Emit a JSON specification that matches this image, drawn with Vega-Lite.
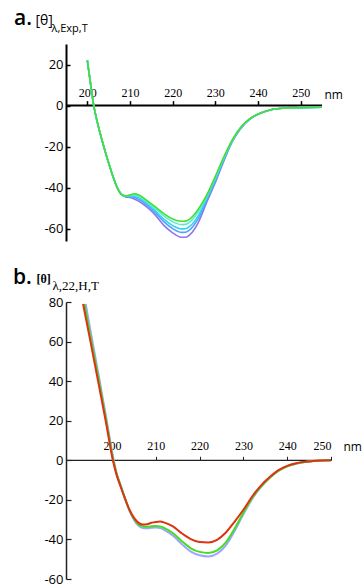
{
  "$schema": "https://vega.github.io/schema/vega-lite/v6.json",
  "padding": {"left": 13, "top": 8, "right": 0, "bottom": 0},
  "config": {"view": {"stroke": null}, "axis": {"grid": false}},
  "spacing": 26,
  "resolve": {"scale": {"color": "independent"}},
  "datasets": {
    "a": [
      {"nm":200,"v":22,"s":"a1"},{"nm":200.5,"v":14.5,"s":"a1"},{"nm":201,"v":7,"s":"a1"},{"nm":201.5,"v":0,"s":"a1"},{"nm":202,"v":-5,"s":"a1"},{"nm":203,"v":-13.5,"s":"a1"},{"nm":204,"v":-21,"s":"a1"},{"nm":205,"v":-28,"s":"a1"},{"nm":206,"v":-34.5,"s":"a1"},{"nm":207,"v":-40,"s":"a1"},{"nm":208,"v":-43.3,"s":"a1"},
      {"nm":209,"v":-44.5,"s":"a1"},{"nm":210,"v":-44.8,"s":"a1"},{"nm":211,"v":-45.5,"s":"a1"},{"nm":212,"v":-46.5,"s":"a1"},{"nm":214,"v":-49.5,"s":"a1"},{"nm":216,"v":-53.5,"s":"a1"},{"nm":218,"v":-58.5,"s":"a1"},{"nm":220,"v":-62,"s":"a1"},{"nm":222,"v":-64.2,"s":"a1"},{"nm":223,"v":-64.2,"s":"a1"},{"nm":224,"v":-63,"s":"a1"},{"nm":226,"v":-57,"s":"a1"},{"nm":228,"v":-47,"s":"a1"},{"nm":230,"v":-37.5,"s":"a1"},{"nm":232,"v":-27,"s":"a1"},{"nm":234,"v":-17.5,"s":"a1"},{"nm":236,"v":-11,"s":"a1"},{"nm":238,"v":-6.8,"s":"a1"},
      {"nm":240,"v":-4.2,"s":"a1"},{"nm":242,"v":-2.6,"s":"a1"},{"nm":245,"v":-1.4,"s":"a1"},{"nm":250,"v":-1.0,"s":"a1"},{"nm":255,"v":-0.8,"s":"a1"},

      {"nm":200,"v":22,"s":"a2"},{"nm":200.5,"v":14.5,"s":"a2"},{"nm":201,"v":7,"s":"a2"},{"nm":201.5,"v":0,"s":"a2"},{"nm":202,"v":-5,"s":"a2"},{"nm":203,"v":-13.5,"s":"a2"},{"nm":204,"v":-21,"s":"a2"},{"nm":205,"v":-28,"s":"a2"},{"nm":206,"v":-34.5,"s":"a2"},{"nm":207,"v":-40,"s":"a2"},{"nm":208,"v":-43.3,"s":"a2"},
      {"nm":209,"v":-44.35,"s":"a2"},{"nm":210,"v":-44.4,"s":"a2"},{"nm":211,"v":-44.7,"s":"a2"},{"nm":212,"v":-45.6,"s":"a2"},{"nm":214,"v":-48.5,"s":"a2"},{"nm":216,"v":-52.3,"s":"a2"},{"nm":218,"v":-56.7,"s":"a2"},{"nm":220,"v":-60,"s":"a2"},{"nm":222,"v":-61.8,"s":"a2"},{"nm":223,"v":-61.7,"s":"a2"},{"nm":224,"v":-60.6,"s":"a2"},{"nm":226,"v":-55,"s":"a2"},{"nm":228,"v":-45.9,"s":"a2"},{"nm":230,"v":-36.6,"s":"a2"},{"nm":232,"v":-26.4,"s":"a2"},{"nm":234,"v":-17.2,"s":"a2"},{"nm":236,"v":-10.9,"s":"a2"},{"nm":238,"v":-6.7,"s":"a2"},
      {"nm":240,"v":-4.2,"s":"a2"},{"nm":242,"v":-2.6,"s":"a2"},{"nm":245,"v":-1.4,"s":"a2"},{"nm":250,"v":-1.0,"s":"a2"},{"nm":255,"v":-0.8,"s":"a2"},

      {"nm":200,"v":22,"s":"a3"},{"nm":200.5,"v":14.5,"s":"a3"},{"nm":201,"v":7,"s":"a3"},{"nm":201.5,"v":0,"s":"a3"},{"nm":202,"v":-5,"s":"a3"},{"nm":203,"v":-13.5,"s":"a3"},{"nm":204,"v":-21,"s":"a3"},{"nm":205,"v":-28,"s":"a3"},{"nm":206,"v":-34.5,"s":"a3"},{"nm":207,"v":-40,"s":"a3"},{"nm":208,"v":-43.3,"s":"a3"},
      {"nm":209,"v":-44.2,"s":"a3"},{"nm":210,"v":-44.1,"s":"a3"},{"nm":211,"v":-44.2,"s":"a3"},{"nm":212,"v":-44.9,"s":"a3"},{"nm":214,"v":-47.8,"s":"a3"},{"nm":216,"v":-51.4,"s":"a3"},{"nm":218,"v":-55.5,"s":"a3"},{"nm":220,"v":-58.5,"s":"a3"},{"nm":222,"v":-60.1,"s":"a3"},{"nm":223,"v":-60,"s":"a3"},{"nm":224,"v":-58.9,"s":"a3"},{"nm":226,"v":-53.6,"s":"a3"},{"nm":228,"v":-45.1,"s":"a3"},{"nm":230,"v":-35.9,"s":"a3"},{"nm":232,"v":-25.9,"s":"a3"},{"nm":234,"v":-17,"s":"a3"},{"nm":236,"v":-10.7,"s":"a3"},{"nm":238,"v":-6.6,"s":"a3"},
      {"nm":240,"v":-4.2,"s":"a3"},{"nm":242,"v":-2.6,"s":"a3"},{"nm":245,"v":-1.4,"s":"a3"},{"nm":250,"v":-1.0,"s":"a3"},{"nm":255,"v":-0.8,"s":"a3"},

      {"nm":200,"v":22,"s":"a4"},{"nm":200.5,"v":14.5,"s":"a4"},{"nm":201,"v":7,"s":"a4"},{"nm":201.5,"v":0,"s":"a4"},{"nm":202,"v":-5,"s":"a4"},{"nm":203,"v":-13.5,"s":"a4"},{"nm":204,"v":-21,"s":"a4"},{"nm":205,"v":-28,"s":"a4"},{"nm":206,"v":-34.5,"s":"a4"},{"nm":207,"v":-40,"s":"a4"},{"nm":208,"v":-43.3,"s":"a4"},
      {"nm":209,"v":-44.1,"s":"a4"},{"nm":210,"v":-43.8,"s":"a4"},{"nm":211,"v":-43.5,"s":"a4"},{"nm":212,"v":-44.1,"s":"a4"},{"nm":214,"v":-46.9,"s":"a4"},{"nm":216,"v":-50.3,"s":"a4"},{"nm":218,"v":-53.9,"s":"a4"},{"nm":220,"v":-56.6,"s":"a4"},{"nm":222,"v":-58,"s":"a4"},{"nm":223,"v":-57.9,"s":"a4"},{"nm":224,"v":-56.8,"s":"a4"},{"nm":226,"v":-51.8,"s":"a4"},{"nm":228,"v":-44.2,"s":"a4"},{"nm":230,"v":-35.1,"s":"a4"},{"nm":232,"v":-25.4,"s":"a4"},{"nm":234,"v":-16.8,"s":"a4"},{"nm":236,"v":-10.6,"s":"a4"},{"nm":238,"v":-6.6,"s":"a4"},
      {"nm":240,"v":-4.2,"s":"a4"},{"nm":242,"v":-2.6,"s":"a4"},{"nm":245,"v":-1.4,"s":"a4"},{"nm":250,"v":-1.0,"s":"a4"},{"nm":255,"v":-0.8,"s":"a4"},

      {"nm":200,"v":22,"s":"a5"},{"nm":200.5,"v":14.5,"s":"a5"},{"nm":201,"v":7,"s":"a5"},{"nm":201.5,"v":0,"s":"a5"},{"nm":202,"v":-5,"s":"a5"},{"nm":203,"v":-13.5,"s":"a5"},{"nm":204,"v":-21,"s":"a5"},{"nm":205,"v":-28,"s":"a5"},{"nm":206,"v":-34.5,"s":"a5"},{"nm":207,"v":-40,"s":"a5"},{"nm":208,"v":-43.3,"s":"a5"},
      {"nm":209,"v":-44,"s":"a5"},{"nm":210,"v":-43.5,"s":"a5"},{"nm":211,"v":-43,"s":"a5"},{"nm":212,"v":-43.5,"s":"a5"},{"nm":214,"v":-46.3,"s":"a5"},{"nm":216,"v":-49.5,"s":"a5"},{"nm":218,"v":-52.8,"s":"a5"},{"nm":220,"v":-55.3,"s":"a5"},{"nm":222,"v":-56.4,"s":"a5"},{"nm":223,"v":-56.3,"s":"a5"},{"nm":224,"v":-55.3,"s":"a5"},{"nm":226,"v":-50.5,"s":"a5"},{"nm":228,"v":-43.5,"s":"a5"},{"nm":230,"v":-34.5,"s":"a5"},{"nm":232,"v":-25,"s":"a5"},{"nm":234,"v":-16.6,"s":"a5"},{"nm":236,"v":-10.5,"s":"a5"},{"nm":238,"v":-6.5,"s":"a5"},
      {"nm":240,"v":-4.2,"s":"a5"},{"nm":242,"v":-2.6,"s":"a5"},{"nm":245,"v":-1.4,"s":"a5"},{"nm":250,"v":-1.0,"s":"a5"},{"nm":255,"v":-0.8,"s":"a5"}
    ],
    "b": [
      {"nm":194,"v":79,"s":"b1"},{"nm":195,"v":66.5,"s":"b1"},{"nm":197,"v":42.5,"s":"b1"},{"nm":198.6,"v":22.5,"s":"b1"},{"nm":200.4,"v":0,"s":"b1"},{"nm":201,"v":-6,"s":"b1"},{"nm":202,"v":-12.8,"s":"b1"},{"nm":203,"v":-19.5,"s":"b1"},{"nm":204,"v":-25.5,"s":"b1"},{"nm":205,"v":-30,"s":"b1"},{"nm":206,"v":-33,"s":"b1"},{"nm":207,"v":-34.2,"s":"b1"},{"nm":208,"v":-34.4,"s":"b1"},{"nm":209,"v":-34.1,"s":"b1"},{"nm":210,"v":-34,"s":"b1"},{"nm":211,"v":-34.3,"s":"b1"},{"nm":212,"v":-35.3,"s":"b1"},{"nm":214,"v":-38.3,"s":"b1"},{"nm":216,"v":-42.5,"s":"b1"},{"nm":218,"v":-46.2,"s":"b1"},{"nm":220,"v":-48,"s":"b1"},{"nm":222,"v":-48.6,"s":"b1"},{"nm":224,"v":-47.2,"s":"b1"},{"nm":226,"v":-43,"s":"b1"},{"nm":228,"v":-35.8,"s":"b1"},{"nm":230,"v":-27.3,"s":"b1"},{"nm":232,"v":-19.5,"s":"b1"},{"nm":234,"v":-13.6,"s":"b1"},{"nm":236,"v":-9,"s":"b1"},{"nm":238,"v":-5.4,"s":"b1"},{"nm":240,"v":-3.1,"s":"b1"},{"nm":242,"v":-1.8,"s":"b1"},{"nm":244,"v":-0.9,"s":"b1"},{"nm":246,"v":-0.4,"s":"b1"},{"nm":248,"v":-0.1,"s":"b1"},{"nm":250,"v":0,"s":"b1"},

      {"nm":193.7,"v":79,"s":"b2"},{"nm":195,"v":63.5,"s":"b2"},{"nm":197,"v":40.5,"s":"b2"},{"nm":198.6,"v":21,"s":"b2"},{"nm":200.3,"v":0,"s":"b2"},{"nm":201,"v":-6.5,"s":"b2"},{"nm":202,"v":-13,"s":"b2"},{"nm":203,"v":-19.5,"s":"b2"},{"nm":204,"v":-25.3,"s":"b2"},{"nm":205,"v":-29.5,"s":"b2"},{"nm":206,"v":-32.3,"s":"b2"},{"nm":207,"v":-33.3,"s":"b2"},{"nm":208,"v":-33.6,"s":"b2"},{"nm":209,"v":-33.3,"s":"b2"},{"nm":210,"v":-33.2,"s":"b2"},{"nm":211,"v":-33.4,"s":"b2"},{"nm":212,"v":-34.3,"s":"b2"},{"nm":214,"v":-37,"s":"b2"},{"nm":216,"v":-41,"s":"b2"},{"nm":218,"v":-44.5,"s":"b2"},{"nm":220,"v":-46.3,"s":"b2"},{"nm":222,"v":-46.8,"s":"b2"},{"nm":224,"v":-45.5,"s":"b2"},{"nm":226,"v":-41.5,"s":"b2"},{"nm":228,"v":-34.5,"s":"b2"},{"nm":230,"v":-26.5,"s":"b2"},{"nm":232,"v":-19,"s":"b2"},{"nm":234,"v":-13.3,"s":"b2"},{"nm":236,"v":-8.8,"s":"b2"},{"nm":238,"v":-5.3,"s":"b2"},{"nm":240,"v":-3,"s":"b2"},{"nm":242,"v":-1.7,"s":"b2"},{"nm":244,"v":-0.9,"s":"b2"},{"nm":246,"v":-0.4,"s":"b2"},{"nm":248,"v":-0.1,"s":"b2"},{"nm":250,"v":0,"s":"b2"},

      {"nm":193.4,"v":79,"s":"b3"},{"nm":195,"v":61,"s":"b3"},{"nm":197,"v":38,"s":"b3"},{"nm":198.6,"v":19.5,"s":"b3"},{"nm":200.2,"v":0,"s":"b3"},{"nm":201,"v":-7,"s":"b3"},{"nm":202,"v":-13.5,"s":"b3"},{"nm":203,"v":-19.5,"s":"b3"},{"nm":204,"v":-25,"s":"b3"},{"nm":205,"v":-29,"s":"b3"},{"nm":206,"v":-31.5,"s":"b3"},{"nm":207,"v":-32.5,"s":"b3"},{"nm":208,"v":-32.3,"s":"b3"},{"nm":209,"v":-31.6,"s":"b3"},{"nm":210,"v":-31.2,"s":"b3"},{"nm":211,"v":-31,"s":"b3"},{"nm":212,"v":-31.5,"s":"b3"},{"nm":214,"v":-33.5,"s":"b3"},{"nm":216,"v":-37,"s":"b3"},{"nm":218,"v":-39.8,"s":"b3"},{"nm":220,"v":-41.3,"s":"b3"},{"nm":222,"v":-41.5,"s":"b3"},{"nm":224,"v":-40.2,"s":"b3"},{"nm":226,"v":-36.5,"s":"b3"},{"nm":228,"v":-31,"s":"b3"},{"nm":230,"v":-25,"s":"b3"},{"nm":232,"v":-18.3,"s":"b3"},{"nm":234,"v":-12.8,"s":"b3"},{"nm":236,"v":-8.5,"s":"b3"},{"nm":238,"v":-5,"s":"b3"},{"nm":240,"v":-2.8,"s":"b3"},{"nm":242,"v":-1.5,"s":"b3"},{"nm":244,"v":-0.8,"s":"b3"},{"nm":246,"v":-0.3,"s":"b3"},{"nm":248,"v":-0.1,"s":"b3"},{"nm":250,"v":0,"s":"b3"}
    ]
  },
  "vconcat": [
    {
      "width": 256,
      "height": 197,
      "title": {"text": "a.", "anchor": "start", "frame": "group", "dx": -52, "dy": 20, "fontSize": 21, "font": "Open Sans", "fontWeight": 600, "color": "black"},
      "resolve": {"axis": {"y": "independent"}},
      "layer": [
        {
          "data": {"values": [{}]},
          "mark": {"type": "rule", "color": "black", "strokeWidth": 2},
          "encoding": {
            "y": {"datum": 0, "type": "quantitative", "scale": {"domain": [-66, 30], "nice": false, "zero": false},
              "axis": {"orient": "right", "title": "λ,Exp,T", "domain": false, "ticks": false, "labels": false,
                "titleAngle": 0, "titleX": -271, "titleY": -13, "titleAlign": "left", "titleBaseline": "alphabetic",
                "titleFont": "Open Sans", "titleFontSize": 11, "titleFontWeight": "normal", "titleColor": "black"}}
          }
        },
        {
          "data": {"name": "a"},
          "mark": {"type": "line", "interpolate": "monotone", "strokeWidth": 1.6},
          "encoding": {
            "x": {"field": "nm", "type": "quantitative", "scale": {"domain": [195, 255], "nice": false, "zero": false},
              "axis": {"orient": "top", "offset": -61.6, "values": [200, 210, 220, 230, 240, 250], "domain": false,
                "tickSize": 5, "tickColor": "black", "tickWidth": 1.5, "labelFont": "Liberation Sans Narrow", "labelFontSize": 12,
                "labelColor": "black", "labelPadding": 1, "title": "nm", "titleX": 258, "titleY": -7, "titleAlign": "left",
                "titleBaseline": "alphabetic", "titleFont": "Open Sans", "titleFontSize": 12, "titleFontWeight": "normal", "titleColor": "black"}},
            "y": {"field": "v", "type": "quantitative", "scale": {"domain": [-66, 30], "nice": false, "zero": false},
              "axis": {"orient": "left", "values": [20, 0, -20, -40, -60], "labelExpr": "'' + datum.value", "domainColor": "black", "domainWidth": 2,
                "tickSize": -4, "tickColor": "black", "tickWidth": 1.5, "labelFont": "Open Sans", "labelFontSize": 13, "labelColor": "black",
                "labelPadding": 7, "title": "[θ]", "titleAngle": 0, "titleX": -31, "titleY": -20, "titleAlign": "left", "titleBaseline": "alphabetic",
                "titleFont": "Open Sans", "titleFontSize": 14, "titleFontWeight": "normal", "titleColor": "black"}},
            "color": {"field": "s", "type": "nominal", "legend": null,
              "scale": {"domain": ["a1", "a2", "a3", "a4", "a5"], "range": ["#8877ee", "#55a0ff", "#33d4f0", "#55eecc", "#44dd33"]}}
          }
        }
      ]
    },
    {
      "width": 265,
      "height": 277,
      "title": {"text": "b.", "anchor": "start", "frame": "group", "dx": -53, "dy": 20, "fontSize": 21, "font": "Open Sans", "fontWeight": 600, "color": "black"},
      "resolve": {"axis": {"y": "independent"}},
      "layer": [
        {
          "data": {"values": [{}]},
          "mark": {"type": "rule", "color": "#222222", "strokeWidth": 1.2},
          "encoding": {
            "y": {"datum": 0, "type": "quantitative", "scale": {"domain": [-60, 80], "nice": false, "zero": false},
              "axis": {"orient": "right", "title": "λ,22,H,T", "domain": false, "ticks": false, "labels": false,
                "titleAngle": 0, "titleX": -279, "titleY": -13, "titleAlign": "left", "titleBaseline": "alphabetic",
                "titleFont": "Liberation Serif", "titleFontSize": 13, "titleFontWeight": "normal", "titleColor": "black"}}
          }
        },
        {
          "data": {"name": "b"},
          "mark": {"type": "line", "interpolate": "monotone", "strokeWidth": 2},
          "encoding": {
            "x": {"field": "nm", "type": "quantitative", "scale": {"domain": [189.5, 250], "nice": false, "zero": false},
              "axis": {"orient": "top", "offset": -158.3, "values": [200, 210, 220, 230, 240, 250], "domain": false,
                "tickSize": 4, "tickColor": "#222222", "tickWidth": 1, "labelFont": "Liberation Sans Narrow", "labelFontSize": 12,
                "labelColor": "black", "labelPadding": 4, "title": "nm", "titleX": 277, "titleY": -10, "titleAlign": "left",
                "titleBaseline": "alphabetic", "titleFont": "Open Sans", "titleFontSize": 12, "titleFontWeight": "normal", "titleColor": "black"}},
            "y": {"field": "v", "type": "quantitative", "scale": {"domain": [-60, 80], "nice": false, "zero": false},
              "axis": {"orient": "left", "values": [80, 60, 40, 20, 0, -20, -40, -60], "labelExpr": "'' + datum.value", "domainColor": "#222222", "domainWidth": 1.5,
                "tickSize": -5, "tickColor": "#222222", "tickWidth": 1.2, "labelFont": "Open Sans", "labelFontSize": 13, "labelColor": "black",
                "labelPadding": 8, "title": "[θ]", "titleAngle": 0, "titleX": -30, "titleY": -20, "titleAlign": "left", "titleBaseline": "alphabetic",
                "titleFont": "Liberation Serif", "titleFontSize": 12, "titleFontWeight": "bold", "titleColor": "black"}},
            "color": {"field": "s", "type": "nominal", "legend": null,
              "scale": {"domain": ["b1", "b2", "b3"], "range": ["#a0a4ff", "#44dd22", "#dd3311"]}}
          }
        }
      ]
    }
  ]
}
